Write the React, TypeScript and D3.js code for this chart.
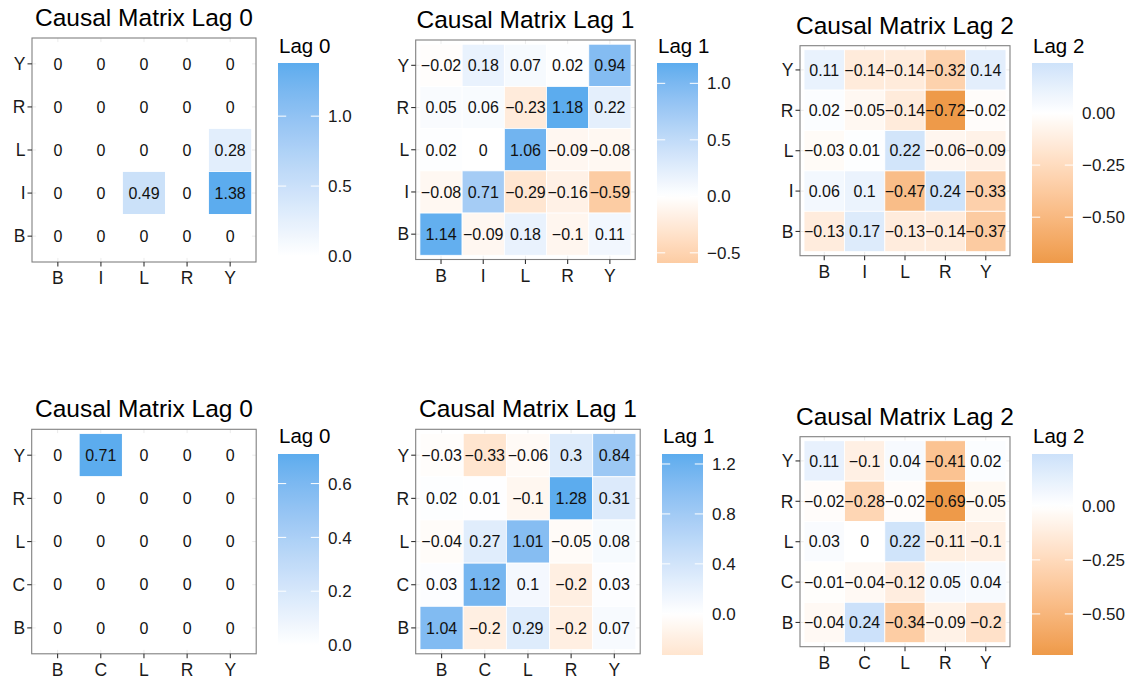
import React from "react";
import * as d3 from "d3";

// ---------- data ----------
const varsTop = ["B", "I", "L", "R", "Y"];
const varsBottom = ["B", "C", "L", "R", "Y"];
// rows are listed from top of the panel to bottom: Y, R, L, (I|C), B ; columns B..Y
const lag0Top = [
  [0, 0, 0, 0, 0],
  [0, 0, 0, 0, 0],
  [0, 0, 0, 0, 0.28],
  [0, 0, 0.49, 0, 1.38],
  [0, 0, 0, 0, 0],
];
const lag1Top = [
  [-0.02, 0.18, 0.07, 0.02, 0.94],
  [0.05, 0.06, -0.23, 1.18, 0.22],
  [0.02, 0, 1.06, -0.09, -0.08],
  [-0.08, 0.71, -0.29, -0.16, -0.59],
  [1.14, -0.09, 0.18, -0.1, 0.11],
];
const lag2Top = [
  [0.11, -0.14, -0.14, -0.32, 0.14],
  [0.02, -0.05, -0.14, -0.72, -0.02],
  [-0.03, 0.01, 0.22, -0.06, -0.09],
  [0.06, 0.1, -0.47, 0.24, -0.33],
  [-0.13, 0.17, -0.13, -0.14, -0.37],
];
const lag0Bottom = [
  [0, 0.71, 0, 0, 0],
  [0, 0, 0, 0, 0],
  [0, 0, 0, 0, 0],
  [0, 0, 0, 0, 0],
  [0, 0, 0, 0, 0],
];
const lag1Bottom = [
  [-0.03, -0.33, -0.06, 0.3, 0.84],
  [0.02, 0.01, -0.1, 1.28, 0.31],
  [-0.04, 0.27, 1.01, -0.05, 0.08],
  [0.03, 1.12, 0.1, -0.2, 0.03],
  [1.04, -0.2, 0.29, -0.2, 0.07],
];
const lag2Bottom = [
  [0.11, -0.1, 0.04, -0.41, 0.02],
  [-0.02, -0.28, -0.02, -0.69, -0.05],
  [0.03, 0, 0.22, -0.11, -0.1],
  [-0.01, -0.04, -0.12, 0.05, 0.04],
  [-0.04, 0.24, -0.34, -0.09, -0.2],
];
const breaksLag0Top = [0, 0.5, 1.0];
const breaksLag1Top = [-0.5, 0, 0.5, 1.0];
const breaksLag2Top = [-0.5, -0.25, 0];
const breaksLag0Bottom = [0, 0.2, 0.4, 0.6];
const breaksLag1Bottom = [0, 0.4, 0.8, 1.2];
const breaksLag2Bottom = [-0.5, -0.25, 0];
const titles = ["Causal Matrix Lag 0", "Causal Matrix Lag 1", "Causal Matrix Lag 2"];
const legendTitles = ["Lag 0", "Lag 1", "Lag 2"];

// ---------- style ----------
const LOW = "#EE9A49"; // tan2
const MID = "#FFFFFF";
const HIGH = "#5CACEE"; // steelblue2
const FONT = "'Liberation Sans', Arial, Helvetica, sans-serif";

type PanelCfg = {
  vars: string[];
  data: number[][];
  breaks: number[];
  fmt: string;
  title: string;
  legendTitle: string;
  px: number; py: number; size: number;
  lx: number; ly: number; lw: number; lh: number; lty: number;
};

const panels: PanelCfg[] = [
  { vars: varsTop, data: lag0Top, breaks: breaksLag0Top, fmt: ".1f", title: titles[0], legendTitle: legendTitles[0],
    px: 32, py: 38, size: 224, lx: 278, ly: 63, lw: 41, lh: 193, lty: 53 },
  { vars: varsTop, data: lag1Top, breaks: breaksLag1Top, fmt: ".1f", title: titles[1], legendTitle: legendTitles[1],
    px: 415.7, py: 40, size: 219.5, lx: 657, ly: 63, lw: 41, lh: 200, lty: 53 },
  { vars: varsTop, data: lag2Top, breaks: breaksLag2Top, fmt: ".2f", title: titles[2], legendTitle: legendTitles[2],
    px: 800, py: 45.7, size: 210, lx: 1032, ly: 63, lw: 41, lh: 200, lty: 53 },
  { vars: varsBottom, data: lag0Bottom, breaks: breaksLag0Bottom, fmt: ".1f", title: titles[0], legendTitle: legendTitles[0],
    px: 31.7, py: 429.3, size: 224.5, lx: 278, ly: 454, lw: 41, lh: 191, lty: 443 },
  { vars: varsBottom, data: lag1Bottom, breaks: breaksLag1Bottom, fmt: ".1f", title: titles[1], legendTitle: legendTitles[1],
    px: 415.7, py: 429.3, size: 224.5, lx: 662, ly: 454, lw: 41, lh: 201, lty: 443 },
  { vars: varsBottom, data: lag2Bottom, breaks: breaksLag2Bottom, fmt: ".2f", title: titles[2], legendTitle: legendTitles[2],
    px: 800, py: 436.7, size: 210, lx: 1032, ly: 454, lw: 41, lh: 201, lty: 443 },
];

const minus = (s: string) => s.replace("-", "\u2212");
const fmtCell = (v: number) => (v < 0 ? "\u2212" : "") + String(Math.abs(v));

function makeColor(data: number[][]) {
  const flat = data.flat();
  const m = d3.max(flat, (v) => Math.abs(v)) || 1;
  const toHigh = d3.interpolateLab(MID, HIGH);
  const toLow = d3.interpolateLab(MID, LOW);
  return (v: number) => (v >= 0 ? toHigh(v / m) : toLow(-v / m));
}

function Panel({ cfg, idx }: { cfg: PanelCfg; idx: number }) {
  const { vars, data, px, py, size } = cfg;
  const x = d3.scalePoint<string>().domain(vars).range([px, px + size]).padding(0.6);
  const y = d3.scalePoint<string>().domain(vars).range([py + size, py]).padding(0.6);
  const step = x.step();
  const rowVars = [...vars].reverse(); // top to bottom
  const color = makeColor(data);
  const flat = data.flat();
  const [mn, mx] = d3.extent(flat) as [number, number];
  const lscale = d3.scaleLinear().domain([mn, mx]).range([cfg.ly + cfg.lh, cfg.ly]);
  const nStops = 40;
  const gid = `grad${idx}`;
  const fmt = d3.format(cfg.fmt);

  return (
    <g>
      <defs>
        <linearGradient id={gid} x1="0" y1="1" x2="0" y2="0">
          {d3.range(nStops + 1).map((i) => {
            const t = i / nStops;
            return <stop key={i} offset={t} stopColor={color(mn + (mx - mn) * t)} />;
          })}
        </linearGradient>
      </defs>
      {/* grid */}
      {vars.map((v) => (
        <line key={"gx" + v} x1={x(v)} x2={x(v)} y1={py} y2={py + size} stroke="#EBEBEB" strokeWidth={1} />
      ))}
      {vars.map((v) => (
        <line key={"gy" + v} x1={px} x2={px + size} y1={y(v)} y2={y(v)} stroke="#EBEBEB" strokeWidth={1} />
      ))}
      {/* tiles */}
      {data.map((row, ri) =>
        row.map((val, ci) => (
          <rect
            key={`t${ri}-${ci}`}
            x={(x(vars[ci]) as number) - step / 2}
            y={(y(rowVars[ri]) as number) - step / 2}
            width={step}
            height={step}
            fill={color(val)}
            stroke="#FFFFFF"
            strokeWidth={0.8}
          />
        ))
      )}
      {data.map((row, ri) =>
        row.map((val, ci) => (
          <text
            key={`l${ri}-${ci}`}
            x={x(vars[ci])}
            y={y(rowVars[ri])}
            dy="0.36em"
            textAnchor="middle"
            fontSize={16}
            fill="#111"
          >
            {fmtCell(val)}
          </text>
        ))
      )}
      <rect x={px} y={py} width={size} height={size} fill="none" stroke="#808080" strokeWidth={1.1} />
      {/* axes */}
      {vars.map((v) => (
        <g key={"ax" + v}>
          <line x1={x(v)} x2={x(v)} y1={py + size} y2={py + size + 4.5} stroke="#333" strokeWidth={1.1} />
          <text x={x(v)} y={py + size + 22} textAnchor="middle" fontSize={17.5} fill="#1a1a1a">
            {v}
          </text>
        </g>
      ))}
      {vars.map((v) => (
        <g key={"ay" + v}>
          <line x1={px - 4.5} x2={px} y1={y(v)} y2={y(v)} stroke="#333" strokeWidth={1.1} />
          <text x={px - 6.5} y={y(v)} dy="0.36em" textAnchor="end" fontSize={17.5} fill="#1a1a1a">
            {v}
          </text>
        </g>
      ))}
      <text x={px + size / 2} y={py - 12} textAnchor="middle" fontSize={24.5} fill="#000">
        {cfg.title}
      </text>
      {/* legend */}
      <text x={cfg.lx + 1} y={cfg.lty} fontSize={20.5} fill="#000">
        {cfg.legendTitle}
      </text>
      <rect x={cfg.lx} y={cfg.ly} width={cfg.lw} height={cfg.lh} fill={`url(#${gid})`} />
      {cfg.breaks.map((b) => (
        <g key={"lb" + b}>
          <line x1={cfg.lx} x2={cfg.lx + cfg.lw / 5} y1={lscale(b)} y2={lscale(b)} stroke="#FFFFFF" strokeWidth={1} />
          <line x1={cfg.lx + (cfg.lw * 4) / 5} x2={cfg.lx + cfg.lw} y1={lscale(b)} y2={lscale(b)} stroke="#FFFFFF" strokeWidth={1} />
          <text x={cfg.lx + cfg.lw + 9} y={lscale(b)} dy="0.36em" fontSize={17} fill="#1a1a1a">
            {minus(fmt(b))}
          </text>
        </g>
      ))}
    </g>
  );
}

export default function App() {
  return (
    <svg
      width={1132}
      height={679}
      style={{ position: "absolute", left: 0, top: 0, background: "#fff" }}
      fontFamily={FONT}
    >
      <rect x={0} y={0} width={1132} height={679} fill="#fff" />
      {panels.map((p, i) => (
        <Panel key={i} cfg={p} idx={i} />
      ))}
    </svg>
  );
}
